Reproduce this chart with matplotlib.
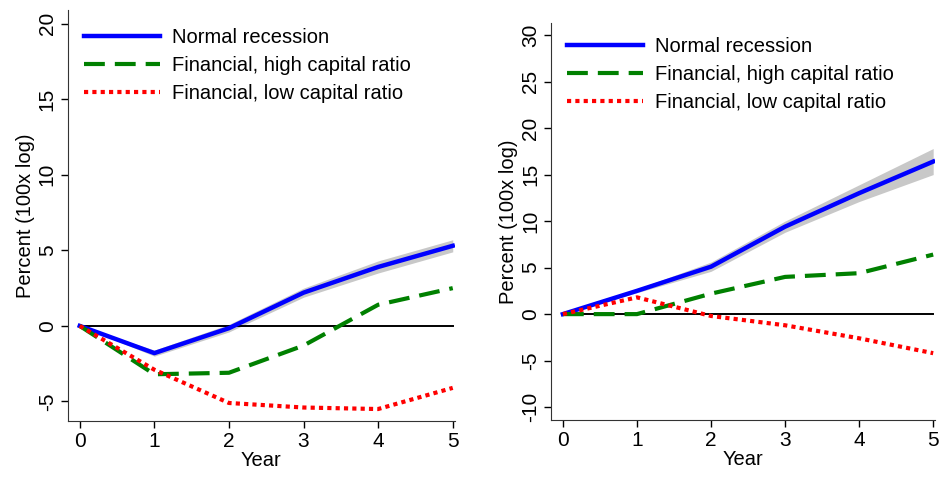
import numpy as np
import matplotlib
matplotlib.use("Agg")
import matplotlib.pyplot as plt

plt.rcParams['font.family'] = ['Liberation Sans', 'DejaVu Sans']

years = [0, 1, 2, 3, 4, 5]
labels = ["Normal recession", "Financial, high capital ratio", "Financial, low capital ratio"]

# left panel
left_normal = [0, -1.8, -0.15, 2.2, 3.9, 5.3]
left_normal_lo = [0, -2.0, -0.4, 1.9, 3.5, 4.9]
left_normal_hi = [0, -1.6, 0.1, 2.5, 4.3, 5.7]
left_high = [0, -3.2, -3.1, -1.3, 1.4, 2.5]
left_low = [0, -2.9, -5.1, -5.4, -5.5, -4.1]

# right panel
right_normal = [0, 2.5, 5.1, 9.4, 13.0, 16.4]
right_normal_lo = [0, 2.3, 4.6, 8.8, 12.1, 15.0]
right_normal_hi = [0, 2.7, 5.6, 10.0, 13.9, 17.8]
right_high = [0, 0, 2.2, 4.0, 4.4, 6.4]
right_low = [0, 1.8, -0.2, -1.2, -2.6, -4.2]

fig = plt.figure(figsize=(9.42, 4.78), dpi=100)
ax1 = fig.add_axes([0.072, 0.119, 0.411, 0.860])
ax2 = fig.add_axes([0.585, 0.121, 0.408, 0.831])


def draw(ax, normal, lo, hi, high, low, yticks, ylim, leg_y):
    ax.fill_between(years, lo, hi, color='#c8c8c8', lw=0, zorder=1)
    ax.plot([0, 5], [0, 0], color='black', lw=1.4, zorder=2)
    ax.plot(years, normal, color='#0000ff', lw=3.2, label=labels[0], zorder=3)
    ax.plot(years, high, color='#008000', lw=3.0, dashes=(5, 2.4), label=labels[1], zorder=3)
    ax.plot(years, low, color='#ff0000', lw=3.0, dashes=(1, 1), label=labels[2], zorder=3)
    ax.set_xlim(-0.16, 5.03)
    ax.set_ylim(*ylim)
    ax.set_xticks(years)
    ax.set_yticks(yticks)
    ax.set_yticklabels([str(t) for t in yticks], rotation=90, va='center')
    ax.tick_params(labelsize=15, length=5, width=1, direction='out', pad=3)
    ax.spines['top'].set_visible(False)
    ax.spines['right'].set_visible(False)
    ax.spines['left'].set_color('#333333')
    ax.spines['bottom'].set_color('#333333')
    ax.set_xlabel("Year", fontsize=14.5, labelpad=0)
    ax.set_ylabel("Percent (100x log)", fontsize=14.5, labelpad=2)
    ax.legend(loc='upper left', frameon=False, fontsize=14.5, handlelength=3.8,
              handletextpad=0.6, labelspacing=0.45, borderaxespad=0.0,
              bbox_to_anchor=(0.02, leg_y))


draw(ax1, left_normal, left_normal_lo, left_normal_hi, left_high, left_low,
     [-5, 0, 5, 10, 15, 20], (-6.3, 20.9), 0.975)
draw(ax2, right_normal, right_normal_lo, right_normal_hi, right_high, right_low,
     [-10, -5, 0, 5, 10, 15, 20, 25, 30], (-11.4, 31.3), 0.985)

fig.savefig("out.png", dpi=100)
